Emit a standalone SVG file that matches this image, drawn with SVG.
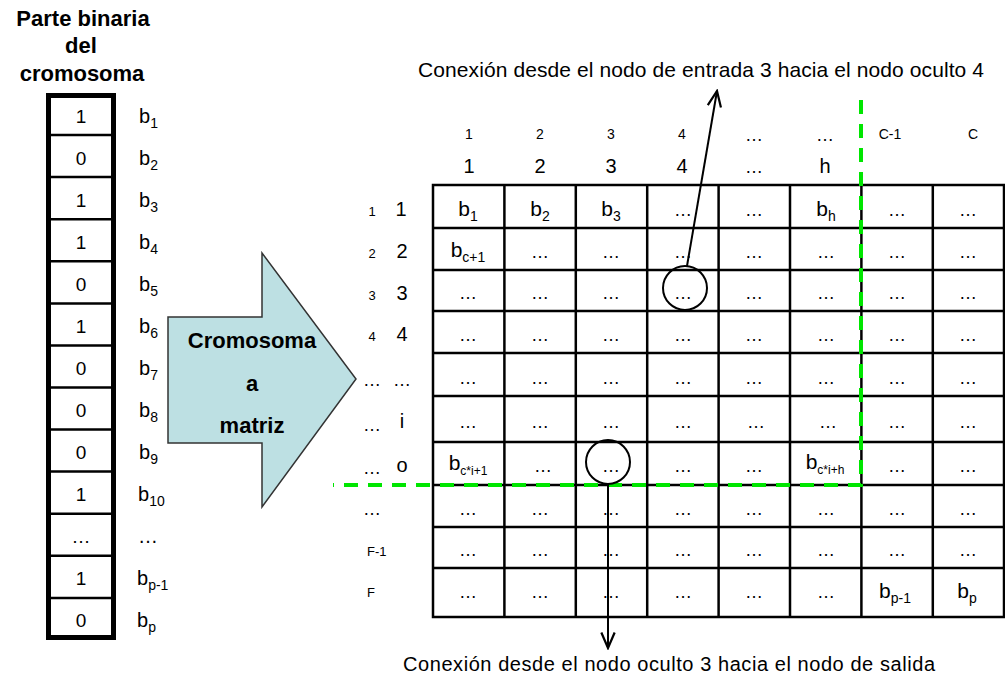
<svg xmlns="http://www.w3.org/2000/svg" width="1005" height="676" viewBox="0 0 1005 676">
<style>
text{font-family:"Liberation Sans",Arial,sans-serif;fill:#000}
.title{font-size:22px;font-weight:bold;text-anchor:middle}
.big{font-size:20px;text-anchor:middle}
.dig{font-size:19px;text-anchor:middle}
.sm{font-size:14px;text-anchor:middle}
.rs{font-size:13px;text-anchor:middle}
.dots{font-size:18px;text-anchor:middle}
.bl{font-size:20px}
.bc{font-size:21px;text-anchor:middle}
.sub{font-size:14px}
.sub2{font-size:12px}
.lab{font-size:21px}
.grid{stroke:#000;stroke-width:2.5;fill:none}
.green{stroke:#00e600;stroke-width:4;stroke-dasharray:14 10;fill:none}
.conn{stroke:#000;stroke-width:2;fill:none}
.circ{stroke:#000;stroke-width:2;fill:none}
</style>
<defs>
<marker id="open" markerUnits="userSpaceOnUse" markerWidth="20" markerHeight="20" viewBox="-16 -8 18 16" refX="0" refY="0" orient="auto">
<path d="M-14,-6 L0,0 L-14,6" stroke="#000" stroke-width="2" fill="none"/>
</marker>
</defs>
<rect width="1005" height="676" fill="#fff"/>

<g id="chromosome">
<text class="title" x="83" y="26">Parte binaria</text>
<text class="title" x="81" y="53">del</text>
<text class="title" x="82" y="81">cromosoma</text>
<g class="grid">
<line x1="48" y1="135.1" x2="114" y2="135.1"/>
<line x1="48" y1="177.1" x2="114" y2="177.1"/>
<line x1="48" y1="219.2" x2="114" y2="219.2"/>
<line x1="48" y1="261.3" x2="114" y2="261.3"/>
<line x1="48" y1="303.4" x2="114" y2="303.4"/>
<line x1="48" y1="345.4" x2="114" y2="345.4"/>
<line x1="48" y1="387.5" x2="114" y2="387.5"/>
<line x1="48" y1="429.6" x2="114" y2="429.6"/>
<line x1="48" y1="471.6" x2="114" y2="471.6"/>
<line x1="48" y1="513.7" x2="114" y2="513.7"/>
<line x1="48" y1="555.8" x2="114" y2="555.8"/>
<line x1="48" y1="597.9" x2="114" y2="597.9"/>
</g>
<rect x="48.5" y="95.5" width="65" height="542" fill="none" stroke="#000" stroke-width="5"/>
<g>
<text class="dig" x="81" y="123">1</text>
<text class="dig" x="81" y="165">0</text>
<text class="dig" x="81" y="207">1</text>
<text class="dig" x="81" y="249">1</text>
<text class="dig" x="81" y="291">0</text>
<text class="dig" x="81" y="333">1</text>
<text class="dig" x="81" y="375">0</text>
<text class="dig" x="81" y="417">0</text>
<text class="dig" x="81" y="459">0</text>
<text class="dig" x="81" y="501">1</text>
<text class="dig" x="81" y="543">…</text>
<text class="dig" x="81" y="585">1</text>
<text class="dig" x="81" y="627">0</text>
</g>
<g>
<text class="bl" x="139" y="123">b<tspan class="sub" dy="5">1</tspan></text>
<text class="bl" x="139" y="165">b<tspan class="sub" dy="5">2</tspan></text>
<text class="bl" x="139" y="207">b<tspan class="sub" dy="5">3</tspan></text>
<text class="bl" x="139" y="249">b<tspan class="sub" dy="5">4</tspan></text>
<text class="bl" x="139" y="291">b<tspan class="sub" dy="5">5</tspan></text>
<text class="bl" x="139" y="333">b<tspan class="sub" dy="5">6</tspan></text>
<text class="bl" x="139" y="375">b<tspan class="sub" dy="5">7</tspan></text>
<text class="bl" x="139" y="417">b<tspan class="sub" dy="5">8</tspan></text>
<text class="bl" x="139" y="459">b<tspan class="sub" dy="5">9</tspan></text>
<text class="bl" x="138" y="501">b<tspan class="sub" dy="5">10</tspan></text>
<text class="bl" x="138" y="543">…</text>
<text class="bl" x="137" y="585">b<tspan class="sub" dy="5">p-1</tspan></text>
<text class="bl" x="137" y="627">b<tspan class="sub" dy="5">p</tspan></text>
</g>
</g>

<g id="arrow-block">
<polygon points="168,317 262,317 262,253 356,379 262,507 262,443 168,443" fill="#bde0e3" stroke="#333" stroke-width="1.5"/>
<text class="title" x="252" y="348">Cromosoma</text>
<text class="title" x="252" y="391">a</text>
<text class="title" x="252" y="433">matriz</text>
</g>

<g id="headers">
<text class="sm" x="469" y="139">1</text>
<text class="sm" x="540" y="139">2</text>
<text class="sm" x="611" y="139">3</text>
<text class="sm" x="682" y="139">4</text>
<text class="dots" x="754" y="141">…</text>
<text class="dots" x="825" y="141">…</text>
<text class="sm" x="890" y="139">C-1</text>
<text class="sm" x="973" y="139">C</text>
<text class="big" x="469" y="173">1</text>
<text class="big" x="540" y="173">2</text>
<text class="big" x="611" y="173">3</text>
<text class="big" x="682" y="173">4</text>
<text class="dots" x="754" y="173">…</text>
<text class="big" x="825" y="173">h</text>
</g>

<g id="row-labels">
<text class="rs" x="372" y="216">1</text><text class="big" x="401" y="216">1</text>
<text class="rs" x="372" y="258">2</text><text class="big" x="402" y="258">2</text>
<text class="rs" x="372" y="300">3</text><text class="big" x="402" y="300">3</text>
<text class="rs" x="372" y="341">4</text><text class="big" x="402" y="341">4</text>
<text class="dots" x="372" y="386">…</text><text class="dots" x="402" y="386">…</text>
<text class="dots" x="372" y="431">…</text><text class="big" x="402" y="428">i</text>
<text class="dots" x="372" y="474">…</text><text class="big" x="402" y="472">o</text>
<text class="dots" x="372" y="515">…</text>
<text class="rs" x="367" y="556" style="text-anchor:start">F-1</text>
<text class="rs" x="367" y="597" style="text-anchor:start">F</text>
</g>

<g id="matrix">
<rect x="433" y="185" width="571" height="432" class="grid"/>
<g class="grid">
<line x1="504.4" y1="185" x2="504.4" y2="617"/>
<line x1="575.8" y1="185" x2="575.8" y2="617"/>
<line x1="647.2" y1="185" x2="647.2" y2="617"/>
<line x1="718.6" y1="185" x2="718.6" y2="617"/>
<line x1="790" y1="185" x2="790" y2="617"/>
<line x1="861.4" y1="185" x2="861.4" y2="617"/>
<line x1="932.8" y1="185" x2="932.8" y2="617"/>
<line x1="433" y1="228" x2="1004" y2="228"/>
<line x1="433" y1="270" x2="1004" y2="270"/>
<line x1="433" y1="311" x2="1004" y2="311"/>
<line x1="433" y1="353" x2="1004" y2="353"/>
<line x1="433" y1="396" x2="1004" y2="396"/>
<line x1="433" y1="442" x2="1004" y2="442"/>
<line x1="433" y1="485" x2="1004" y2="485"/>
<line x1="433" y1="527" x2="1004" y2="527"/>
<line x1="433" y1="568" x2="1004" y2="568"/>
</g>
<!-- row 1 -->
<text class="bc" x="468" y="216">b<tspan class="sub" dy="5">1</tspan></text>
<text class="bc" x="540" y="216">b<tspan class="sub" dy="5">2</tspan></text>
<text class="bc" x="611" y="216">b<tspan class="sub" dy="5">3</tspan></text>
<text class="dots" x="683" y="216">…</text>
<text class="dots" x="754" y="216">…</text>
<text class="bc" x="826" y="216">b<tspan class="sub" dy="5">h</tspan></text>
<text class="dots" x="897" y="216">…</text>
<text class="dots" x="968" y="216">…</text>
<!-- row 2 -->
<text class="bc" x="468" y="257">b<tspan class="sub" dy="5">c+1</tspan></text>
<text class="dots" x="540" y="258">…</text>
<text class="dots" x="611" y="258">…</text>
<text class="dots" x="683" y="258">…</text>
<text class="dots" x="754" y="258">…</text>
<text class="dots" x="826" y="258">…</text>
<text class="dots" x="897" y="258">…</text>
<text class="dots" x="968" y="258">…</text>
<!-- row 3 -->
<text class="dots" x="468" y="299">…</text>
<text class="dots" x="540" y="299">…</text>
<text class="dots" x="611" y="299">…</text>
<text class="dots" x="683" y="299">…</text>
<text class="dots" x="754" y="299">…</text>
<text class="dots" x="826" y="299">…</text>
<text class="dots" x="897" y="299">…</text>
<text class="dots" x="968" y="299">…</text>
<!-- row 4 -->
<text class="dots" x="468" y="341">…</text>
<text class="dots" x="540" y="341">…</text>
<text class="dots" x="611" y="341">…</text>
<text class="dots" x="683" y="341">…</text>
<text class="dots" x="754" y="341">…</text>
<text class="dots" x="826" y="341">…</text>
<text class="dots" x="897" y="341">…</text>
<text class="dots" x="968" y="341">…</text>
<!-- row 5 -->
<text class="dots" x="468" y="384">…</text>
<text class="dots" x="540" y="384">…</text>
<text class="dots" x="611" y="384">…</text>
<text class="dots" x="683" y="384">…</text>
<text class="dots" x="754" y="384">…</text>
<text class="dots" x="826" y="384">…</text>
<text class="dots" x="897" y="384">…</text>
<text class="dots" x="968" y="384">…</text>
<!-- row 6 -->
<text class="dots" x="468" y="428">…</text>
<text class="dots" x="540" y="428">…</text>
<text class="dots" x="611" y="428">…</text>
<text class="dots" x="683" y="428">…</text>
<text class="dots" x="756" y="428">…</text>
<text class="dots" x="828" y="428">…</text>
<text class="dots" x="897" y="428">…</text>
<text class="dots" x="968" y="428">…</text>
<!-- row 7 -->
<text class="bc" x="468" y="470">b<tspan class="sub2" dy="5">c*i+1</tspan></text>
<text class="dots" x="543" y="472">…</text>
<text class="dots" x="611" y="472">…</text>
<text class="dots" x="683" y="472">…</text>
<text class="dots" x="754" y="472">…</text>
<text class="bc" x="825" y="469">b<tspan class="sub2" dy="5">c*i+h</tspan></text>
<text class="dots" x="897" y="472">…</text>
<text class="dots" x="968" y="472">…</text>
<!-- row 8 -->
<text class="dots" x="468" y="515">…</text>
<text class="dots" x="540" y="515">…</text>
<text class="dots" x="611" y="515">…</text>
<text class="dots" x="683" y="515">…</text>
<text class="dots" x="754" y="515">…</text>
<text class="dots" x="826" y="515">…</text>
<text class="dots" x="897" y="515">…</text>
<text class="dots" x="968" y="515">…</text>
<!-- row 9 -->
<text class="dots" x="468" y="556">…</text>
<text class="dots" x="540" y="556">…</text>
<text class="dots" x="611" y="556">…</text>
<text class="dots" x="683" y="556">…</text>
<text class="dots" x="754" y="556">…</text>
<text class="dots" x="826" y="556">…</text>
<text class="dots" x="897" y="556">…</text>
<text class="dots" x="968" y="556">…</text>
<!-- row 10 -->
<text class="dots" x="468" y="598">…</text>
<text class="dots" x="540" y="598">…</text>
<text class="dots" x="611" y="598">…</text>
<text class="dots" x="683" y="598">…</text>
<text class="dots" x="754" y="598">…</text>
<text class="dots" x="826" y="598">…</text>
<text class="bc" x="895" y="598">b<tspan class="sub" dy="5">p-1</tspan></text>
<text class="bc" x="967" y="598">b<tspan class="sub" dy="5">p</tspan></text>
</g>

<g id="highlight">
<polyline class="green" points="861,100 861,485 333,485"/>
</g>

<g id="node-circle-1"><circle class="circ" cx="685" cy="288" r="22"/></g>
<g id="node-circle-2"><circle class="circ" cx="608" cy="462" r="22"/></g>

<g id="connectors">
<line class="conn" x1="687" y1="266" x2="717" y2="91" marker-end="url(#open)"/>
<line class="conn" x1="608" y1="484" x2="608" y2="648" marker-end="url(#open)"/>
</g>

<g id="labels">
<text class="lab" x="418" y="77" textLength="566">Conexión desde el nodo de entrada 3 hacia el nodo oculto 4</text>
<text class="lab" x="403" y="671" style="font-size:20px" textLength="532">Conexión desde el nodo oculto 3 hacia el nodo de salida</text>
</g>
</svg>
